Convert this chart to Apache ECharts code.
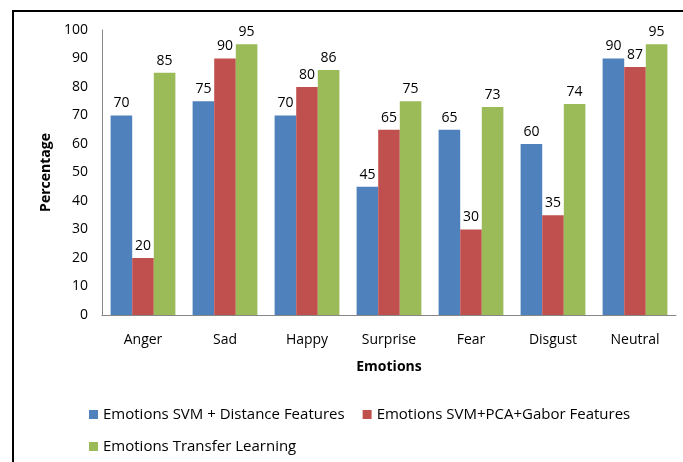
<!DOCTYPE html>
<html><head><meta charset="utf-8">
<script src="https://cdn.jsdelivr.net/npm/echarts@6/dist/echarts.min.js"></script>
<style>html,body{margin:0;padding:0;background:#fff}#c{width:683px;height:462px}
#frame{position:absolute;left:12px;top:10px;width:700px;height:500px;border-left:2.5px solid #000;border-top:2.5px solid #000;pointer-events:none}</style>
</head><body><div id="c"></div><div id="frame"></div>
<script>
var categories = ['Anger','Sad','Happy','Surprise','Fear','Disgust','Neutral'];
var seriesNames = ['Emotions SVM + Distance Features','Emotions SVM+PCA+Gabor Features','Emotions Transfer Learning'];
var svmDistance = [70,75,70,45,65,60,90];
var svmPcaGabor = [20,90,80,65,30,35,87];
var transferLearning = [85,95,86,75,73,74,95];
var yTicks = [0,10,20,30,40,50,60,70,80,90,100];
var colors = ['#4F81BD','#C0504D','#9BBB59'];
var FONT = 'Open Sans';
var chart = echarts.init(document.getElementById('c'));
function mk(name, data, color){
  return {name:name,type:'bar',data:data,barGap:'0%',barCategoryGap:'21%',
    itemStyle:{color:color},
    label:{show:true,position:'top',distance:5,color:'#000',fontFamily:FONT,fontSize:14}};
}
chart.setOption({
  animation:false,
  textStyle:{fontFamily:FONT},
  grid:{left:102,right:7,top:30,bottom:147,containLabel:false},
  legend:[{
    data:seriesNames.slice(0,2),left:84,top:402,itemWidth:9,itemHeight:9,itemGap:18,icon:'rect',
    textStyle:{fontFamily:FONT,fontSize:15,color:'#000'}
  },{
    data:seriesNames.slice(2),left:84,top:434,itemWidth:9,itemHeight:9,icon:'rect',
    textStyle:{fontFamily:FONT,fontSize:15,color:'#000'}
  }],
  xAxis:{type:'category',data:categories,
    axisLine:{lineStyle:{color:'#868686'}},axisTick:{show:false},
    axisLabel:{color:'#000',fontFamily:FONT,fontSize:14,margin:18},
    name:'Emotions',nameLocation:'middle',nameGap:45,
    nameTextStyle:{fontFamily:FONT,fontSize:14,fontWeight:'bold',color:'#000'}},
  yAxis:{type:'value',min:yTicks[0],max:yTicks[yTicks.length-1],interval:10,
    axisLine:{show:true,lineStyle:{color:'#868686'}},axisTick:{show:false},
    splitLine:{show:false},
    axisLabel:{color:'#000',fontFamily:FONT,fontSize:14,margin:14},
    name:'Percentage',nameLocation:'middle',nameGap:48,
    nameTextStyle:{fontFamily:FONT,fontSize:14,fontWeight:'bold',color:'#000'}},
  series:[mk(seriesNames[0],svmDistance,colors[0]),mk(seriesNames[1],svmPcaGabor,colors[1]),mk(seriesNames[2],transferLearning,colors[2])]
});
</script></body></html>
